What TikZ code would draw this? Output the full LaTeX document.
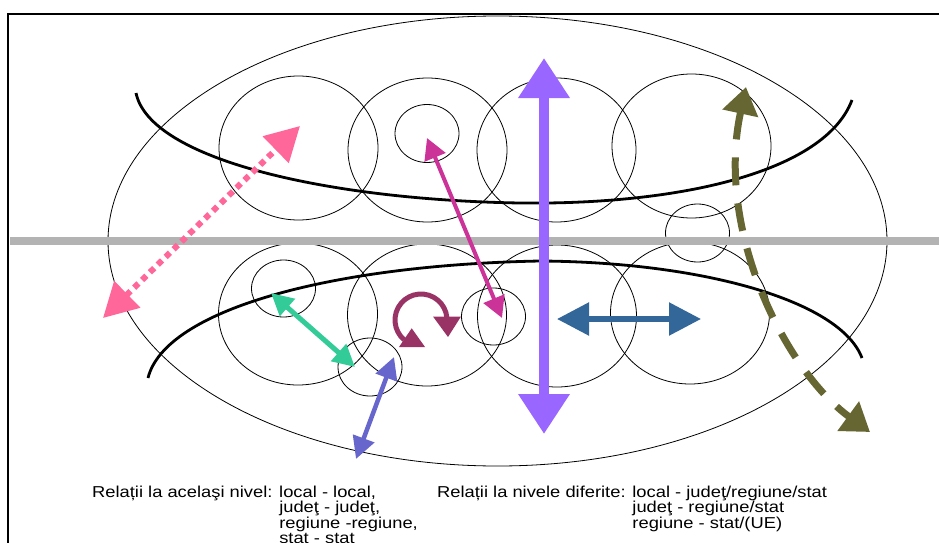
\documentclass[tikz,border=0pt]{standalone}
\usepackage{fontspec}
\setmainfont{Liberation Sans}
\newfontfamily\labfont[FakeStretch=1.16]{Liberation Sans}
\usetikzlibrary{arrows.meta,calc}
\definecolor{pinkc}{HTML}{FF6699}
\definecolor{magc}{HTML}{CC3399}
\definecolor{violc}{HTML}{9966FF}
\definecolor{bluec}{HTML}{336699}
\definecolor{tealc}{HTML}{33CC99}
\definecolor{slatec}{HTML}{6666CC}
\definecolor{maroonc}{HTML}{993366}
\definecolor{olivec}{HTML}{666633}
\definecolor{grayc}{HTML}{B3B3B3}
\tikzset{
  frameline/.style={line width=2pt, line cap=butt},
  thinline/.style={draw=black, line width=0.8pt},
  thickcurve/.style={draw=black, line width=2.8pt, line cap=butt},
  sepline/.style={draw=grayc, line width=8pt},
  pinkarrow/.style={draw=pinkc, line width=6pt, dash pattern=on 6pt off 5pt,
     {Triangle[length=34pt,width=36pt]}-{Triangle[length=34pt,width=36pt]}},
  magarrow/.style={draw=magc, line width=4pt,
     {Triangle[length=21pt,width=22pt]}-{Triangle[length=21pt,width=22pt]}},
  violarrow/.style={draw=violc, line width=10pt,
     {Triangle[length=40pt,width=49pt]}-{Triangle[length=40pt,width=49pt]}},
  bluearrow/.style={draw=bluec, line width=5.5pt,
     {Triangle[length=32pt,width=32pt]}-{Triangle[length=32pt,width=32pt]}},
  tealarrow/.style={draw=tealc, line width=5pt,
     {Triangle[length=22pt,width=22pt]}-{Triangle[length=22pt,width=22pt]}},
  slatearrow/.style={draw=slatec, line width=4.5pt,
     {Triangle[length=22pt,width=22pt]}-{Triangle[length=22pt,width=22pt]}},
  olivearrow/.style={draw=olivec, line width=7pt, dash pattern=on 28pt off 18pt,
     {Triangle[length=27pt,width=35pt]}-{Triangle[length=27pt,width=35pt]}},
  maroonline/.style={draw=maroonc, line width=5pt},
  labeltext/.style={inner sep=0pt, anchor=base west, font=\labfont\fontsize{15.8}{14.6}\selectfont}
}
\begin{document}
\begin{tikzpicture}[x=1pt,y=-1pt]
\useasboundingbox (0,0) rectangle (939,543);
% frame
\draw[frameline] (939,14) -- (8,14) -- (8,543);
% big ellipse
\draw[thinline] (497.5,241) ellipse [x radius=389.5, y radius=225];
% top row circles
\draw[thinline] (298.5,148) ellipse [x radius=79.5, y radius=72];
\draw[thinline] (427.5,150) ellipse [x radius=79.5, y radius=72];
\draw[thinline] (556.5,150) ellipse [x radius=79.5, y radius=72];
\draw[thinline] (691.5,146) ellipse [x radius=79.5, y radius=72];
% bottom row circles
\draw[thinline] (298,314) ellipse [x radius=79.5, y radius=71];
\draw[thinline] (427,315) ellipse [x radius=79.5, y radius=71];
\draw[thinline] (557,316) ellipse [x radius=79.5, y radius=71];
\draw[thinline] (690,313) ellipse [x radius=79.5, y radius=71];
% small circles
\draw[thinline] (427,133.5) ellipse [x radius=32, y radius=29];
\draw[thinline] (697.5,233) ellipse [x radius=32, y radius=29];
\draw[thinline] (283.5,288.5) ellipse [x radius=32, y radius=28.5];
\draw[thinline] (370,367) ellipse [x radius=32, y radius=29];
\draw[thinline] (493.5,316.5) ellipse [x radius=32, y radius=28.5];
% thick curves
\draw[thickcurve] (136,93) .. controls (150,160) and (330,200) .. (520,203)
                  .. controls (680,205) and (825,172) .. (852,100);
\draw[thickcurve] (148,378) .. controls (165,310) and (330,265) .. (540,261)
                  .. controls (700,262) and (840,300) .. (862,358);
% separator
\draw[sepline] (10,241) -- (939,241);
% named arrow ends
\coordinate (pinkA) at (103,318);  \coordinate (pinkB) at (300,126);
\coordinate (magA) at (427,138);   \coordinate (magB) at (502,318);
\coordinate (violA) at (544,58);   \coordinate (violB) at (544,434);
\coordinate (blueA) at (557,319);  \coordinate (blueB) at (701,319);
\coordinate (tealA) at (271,293);  \coordinate (tealB) at (355,367);
\coordinate (slateA) at (394,357); \coordinate (slateB) at (356,459);
\coordinate (oliveA) at (746,87);  \coordinate (oliveB) at (870,432);
\coordinate (loopC) at (421,320);
% arrows
\draw[pinkarrow] (pinkA) -- (pinkB);
\draw[magarrow] (magA) -- (magB);
\draw[violarrow] (violA) -- (violB);
\draw[bluearrow] (blueA) -- (blueB);
\draw[tealarrow] (tealA) -- (tealB);
\draw[slatearrow] (slateA) -- (slateB);
\draw[olivearrow] (oliveA) .. controls (715,230) and (785,370) .. (oliveB);
% maroon loop arrow
\draw[maroonline] ($(loopC)+(130:26)$) arc[start angle=130, end angle=355, radius=26];
\fill[maroonc] (433,316.5) -- (461,316.5) -- (448,337) -- cycle;
\fill[maroonc] (411.7,328.3) -- (399,347) -- (425,347) -- cycle;
% texts
\node[labeltext] (leftText) at (92,497) {\begin{tabular}[t]{@{}l@{ }l@{}}
Relații la acelaşi nivel: & local - local,\\
 & judeţ - judeţ,\\
 & regiune -regiune,\\
 & stat - stat
\end{tabular}};
\node[labeltext] (rightText) at (437,497) {\begin{tabular}[t]{@{}l@{ }l@{}}
Relații la nivele diferite: & local - judeţ/regiune/stat\\
 & judeţ - regiune/stat\\
 & regiune - stat/(UE)
\end{tabular}};
\end{tikzpicture}
\end{document}
